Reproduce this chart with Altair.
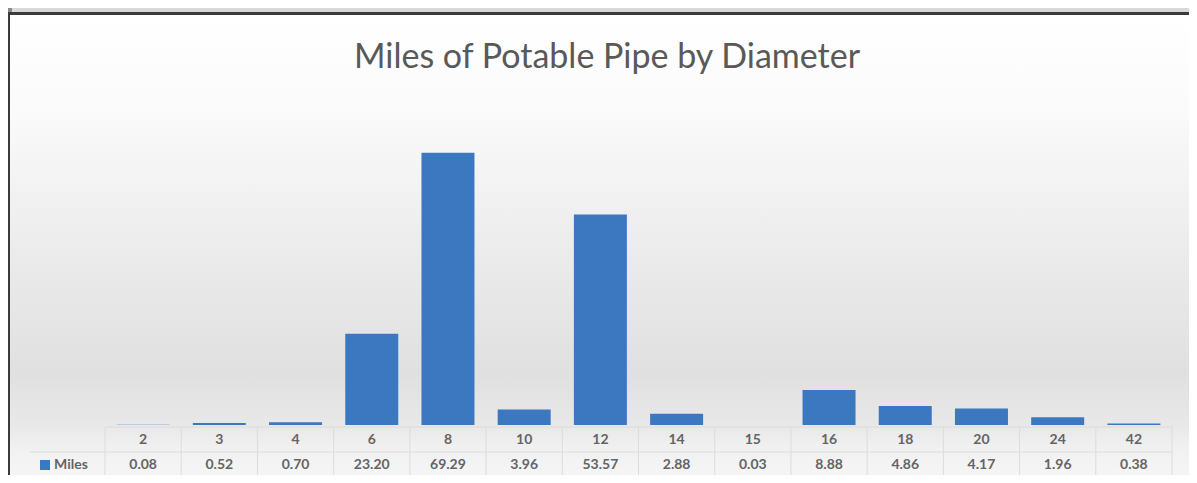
import altair as alt
import pandas as pd

# ---- data ----
diameters = ["2", "3", "4", "6", "8", "10", "12", "14", "15", "16", "18", "20", "24", "42"]
miles = [0.08, 0.52, 0.70, 23.20, 69.29, 3.96, 53.57, 2.88, 0.03, 8.88, 4.86, 4.17, 1.96, 0.38]
series_name = "Miles"
title_text = "Miles of Potable Pipe by Diameter"

df = pd.DataFrame({"cat": diameters, "miles": miles})
one = pd.DataFrame({"a": [0]})

W, H = 1181, 467
FONT = "Lato"
TXT = "#595959"
TBL = "#646464"
BAR = "#3c78c0"
GRID = "#dcdcdc"

xs = alt.Scale(type="band", domain=diameters, range=[97, 1164], paddingInner=0, paddingOuter=0)
ys = alt.Scale(domain=[0, 80], range=[417, 102.6], nice=False, zero=True)

# frame pieces
strip = alt.Chart(one).mark_rect(color="#d9d9d9").encode(
    x=alt.value(4), x2=alt.value(W), y=alt.value(0), y2=alt.value(4))
dark = alt.Chart(one).mark_rect(color="#3b3b3b").encode(
    x=alt.value(0), x2=alt.value(W), y=alt.value(4), y2=alt.value(7))
darkleft = alt.Chart(one).mark_rect(color="#3b3b3b").encode(
    x=alt.value(0), x2=alt.value(2), y=alt.value(4), y2=alt.value(H))

grad = alt.Gradient(
    gradient="linear",
    stops=[
        alt.GradientStop(offset=0.0, color="#ffffff"),
        alt.GradientStop(offset=0.2, color="#fbfbfb"),
        alt.GradientStop(offset=0.5, color="#ececec"),
        alt.GradientStop(offset=0.78, color="#e0e0e0"),
        alt.GradientStop(offset=0.89, color="#e8e8e8"),
        alt.GradientStop(offset=0.945, color="#f1f1f1"),
        alt.GradientStop(offset=1.0, color="#f5f5f5"),
    ],
    x1=0, x2=0, y1=0, y2=1,
)
panel = alt.Chart(one).mark_rect(color=grad).encode(
    x=alt.value(2), x2=alt.value(W), y=alt.value(7), y2=alt.value(H))

title = alt.Chart(one).mark_text(
    text=title_text, font=FONT, fontSize=34, color=TXT, align="center", baseline="alphabetic"
).encode(x=alt.value(599), y=alt.value(60))

bars = alt.Chart(df).mark_bar(color=BAR, size=53).encode(
    x=alt.X("cat:N", scale=xs, axis=None),
    y=alt.Y("miles:Q", scale=ys, axis=None),
)

# data table
vrules = alt.Chart(df).mark_rule(color=GRID, strokeWidth=1).encode(
    x=alt.X("cat:N", scale=xs, axis=None, bandPosition=0),
    y=alt.value(420), y2=alt.value(H),
)
vlast = alt.Chart(df).transform_filter(alt.datum.cat == "42").mark_rule(color=GRID, strokeWidth=1).encode(
    x=alt.X("cat:N", scale=xs, axis=None, bandPosition=1),
    y=alt.value(417), y2=alt.value(H),
)
htop = alt.Chart(one).mark_rule(color=GRID).encode(
    x=alt.value(97), x2=alt.value(1164), y=alt.value(419), y2=alt.value(419))
hmid = alt.Chart(one).mark_rule(color=GRID).encode(
    x=alt.value(22), x2=alt.value(1164), y=alt.value(444), y2=alt.value(444))

cat_text = alt.Chart(df).mark_text(font=FONT, fontSize=14, fontWeight="bold", color=TBL, baseline="middle").encode(
    x=alt.X("cat:N", scale=xs, axis=None),
    y=alt.value(432),
    text="cat:N",
)
val_text = alt.Chart(df).mark_text(font=FONT, fontSize=14, fontWeight="bold", color=TBL, baseline="middle").encode(
    x=alt.X("cat:N", scale=xs, axis=None),
    y=alt.value(457),
    text=alt.Text("miles:Q", format=".2f"),
)
key_sq = alt.Chart(one).mark_rect(color=BAR).encode(
    x=alt.value(32), x2=alt.value(42), y=alt.value(452), y2=alt.value(462))
key_txt = alt.Chart(one).mark_text(
    text=series_name, font=FONT, fontSize=14, fontWeight="bold", color=TBL, align="left", baseline="middle"
).encode(x=alt.value(46), y=alt.value(457))

chart = alt.layer(
    strip, dark, darkleft, panel, title, bars, vrules, vlast, htop, hmid,
    cat_text, val_text, key_sq, key_txt
).properties(
    width=W, height=H, padding=0, autosize=alt.AutoSizeParams(type="none"),
    background="#878b8f",
).configure_view(stroke=None)

chart.save("out.html", embed_options={"renderer": "svg", "actions": False})
